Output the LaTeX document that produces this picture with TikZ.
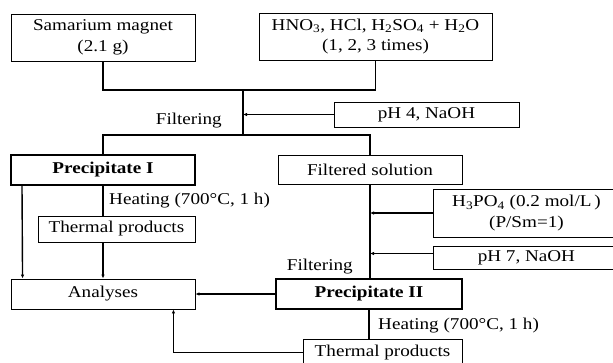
\documentclass[tikz,border=0pt]{standalone}
\usepackage{fontspec}
\setmainfont{Liberation Serif}[FakeStretch=1.16]
\usetikzlibrary{arrows.meta,calc}
\newcommand{\sbs}[1]{\textsubscript{#1}}
\begin{document}
\begin{tikzpicture}[x=1pt,y=-1pt,
  font=\fontsize{16.5}{20.5}\selectfont,
  box/.style={draw,line width=0.9pt,inner sep=0pt,align=center},
  thickbox/.style={box,line width=2pt},
  conn/.style={line width=1.4pt},
  arr/.style={conn,-{Latex[length=4pt,width=3.5pt]}},
  lbl/.style={inner sep=0pt}]
\clip (0,0) rectangle (613,362);
\fill[white] (0,0) rectangle (613,362);
% boxes
\node[box,minimum width=184pt,minimum height=47pt] (sm) at (103,37.5) {Samarium magnet\\(2.1 g)};
\node[box,minimum width=233pt,minimum height=47pt] (acid) at (375.5,36.5) {HNO\sbs{3}, HCl, H\sbs{2}SO\sbs{4} + H\sbs{2}O\\(1, 2, 3 times)};
\node[box,minimum width=185pt,minimum height=25pt] (ph4) at (426.5,114.5) {pH 4, NaOH};
\node[thickbox,minimum width=184pt,minimum height=30pt] (p1) at (103,170) {\textbf{Precipitate I}};
\node[box,minimum width=184pt,minimum height=29pt] (fs) at (370,169.5) {Filtered solution};
\node[box,minimum width=157pt,minimum height=26pt] (tp1) at (116.5,229) {Thermal products};
\node[box,minimum width=184pt,minimum height=30pt] (an) at (103,294) {Analyses};
\node[box,minimum width=200pt,minimum height=48pt,anchor=west] (h3) at (433,213) {\hspace*{-14pt}H\sbs{3}PO\sbs{4} (0.2 mol/L\,)\\\hspace*{-14pt}(P/Sm=1)};
\node[box,minimum width=200pt,minimum height=23pt,anchor=west] (ph7) at (433,257.5) {\hspace*{-14pt}pH 7, NaOH};
\node[thickbox,minimum width=186pt,minimum height=30pt] (p2) at (369,294) {\textbf{Precipitate II}};
\node[box,minimum width=159pt,minimum height=27pt] (tp2) at (382.5,352.5) {Thermal products};
% labels
\node[lbl,anchor=east] (f1) at (222,121) {Filtering};
\node[lbl,anchor=west] (h1) at (109,201) {Heating (700°C, 1 h)};
\node[lbl,anchor=east] (f2) at (353,267) {Filtering};
\node[lbl,anchor=west] (h2) at (378,326) {Heating (700°C, 1 h)};
% junctions
\coordinate (j1) at (243,90);
\coordinate (j2) at (243,135);
% connectors
\draw[conn] (sm.south) |- (j1) -| (acid.south);
\draw[conn] (j1) -- (j2);
\draw[arr] (ph4.west) -- (ph4.west -| j1);
\draw[conn] (p1.north) |- (j2) -| (fs.north);
\draw[arr] ($(p1.south west)+(12,0)$) -- ($(an.north west)+(12,0)$);
\draw[conn] (p1.south) -- (p1.south |- tp1.north);
\draw[arr] (tp1.south -| p1.south) -- (an.north);
\draw[conn] (fs.south) -- (fs.south |- p2.north);
\draw[arr] (h3.west) -- (h3.west -| fs.south);
\draw[arr] ($(ph7.west)+(0,-4)$) -- ($(ph7.west -| fs.south)+(0,-4)$);
\draw[arr] (p2.west) -- (an.east);
\draw[conn] (p2.south) -- (p2.south |- tp2.north);
\draw[arr] (tp2.west) -| ($(an.south east)+(-22,0)$);
\end{tikzpicture}
\end{document}
